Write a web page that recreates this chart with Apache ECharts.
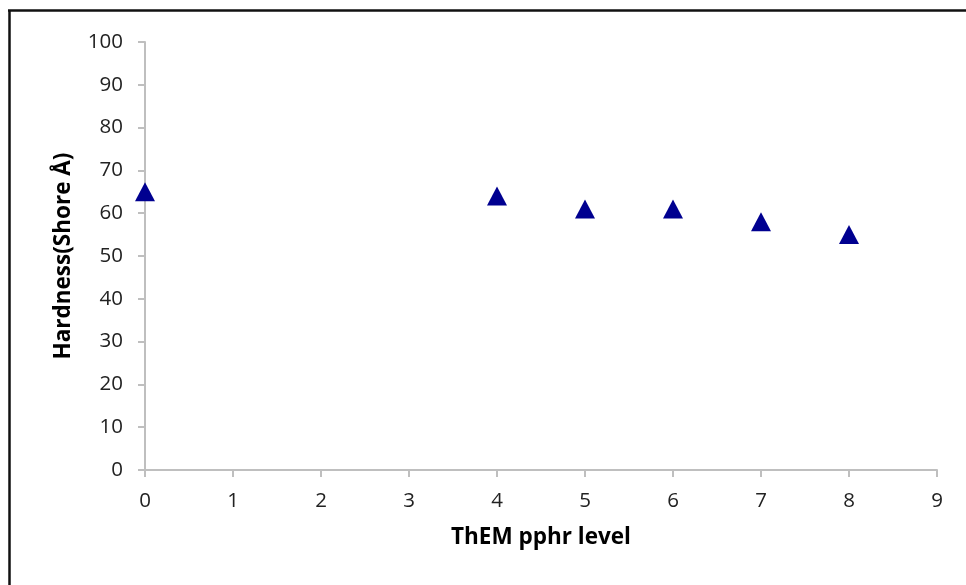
<!DOCTYPE html>
<html><head><meta charset="utf-8">
<script src="https://cdn.jsdelivr.net/npm/echarts@6/dist/echarts.min.js"></script>
<style>html,body{margin:0;padding:0;background:#fff}#c{width:966px;height:585px}</style>
</head><body><div id="c"></div>
<script>
const xValues = [0, 4, 5, 6, 7, 8];
const hardness = [65, 64, 61, 61, 58, 55];
const xTitle = 'ThEM pphr level';
const yTitle = 'Hardness(Shore Å)';

const chart = echarts.init(document.getElementById('c'), null, {renderer: 'canvas'});
const font = '"Open Sans", "Noto Sans", sans-serif';
chart.setOption({
  animation: false,
  backgroundColor: '#fff',
  grid: {left: 145, right: 29, top: 42, bottom: 115, containLabel: false},
  graphic: [
    {type: 'line', shape: {x1: 9.5, y1: 10, x2: 9.5, y2: 585}, style: {stroke: '#111', lineWidth: 2.5}},
    {type: 'line', shape: {x1: 8, y1: 10.5, x2: 966, y2: 10.5}, style: {stroke: '#111', lineWidth: 2.5}}
  ],
  xAxis: {
    type: 'value', min: 0, max: 9, interval: 1,
    name: xTitle, nameLocation: 'middle', nameGap: 56,
    nameTextStyle: {fontFamily: font, fontSize: 22.5, fontWeight: 'bold', color: '#000'},
    axisLine: {show: true, onZero: false, lineStyle: {color: '#bfbfbf', width: 2}},
    axisTick: {show: true, inside: false, length: 7, lineStyle: {color: '#bfbfbf', width: 2}},
    axisLabel: {margin: 21, fontFamily: font, fontSize: 20.5, color: '#222'},
    splitLine: {show: false}
  },
  yAxis: {
    type: 'value', min: 0, max: 100, interval: 10,
    name: yTitle, nameLocation: 'middle', nameGap: 70, nameRotate: 90,
    nameTextStyle: {fontFamily: font, fontSize: 22.5, fontWeight: 'bold', color: '#000'},
    axisLine: {show: true, onZero: false, lineStyle: {color: '#bfbfbf', width: 2}},
    axisTick: {show: true, inside: false, length: 7, lineStyle: {color: '#bfbfbf', width: 2}},
    axisLabel: {margin: 22, fontFamily: font, fontSize: 20.5, color: '#222'},
    splitLine: {show: false}
  },
  series: [{
    type: 'scatter',
    data: xValues.map((x, i) => [x, hardness[i]]),
    symbol: 'triangle',
    symbolSize: [20, 19],
    itemStyle: {color: '#000090', opacity: 1}
  }]
});
</script></body></html>
